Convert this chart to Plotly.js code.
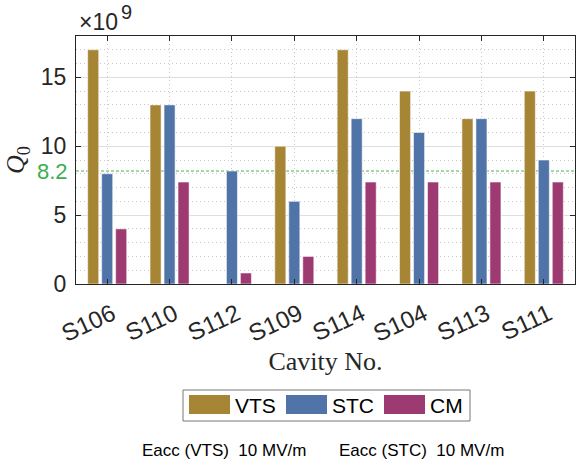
<!DOCTYPE html>
<html>
<head>
<meta charset="utf-8">
<script src="https://cdn.plot.ly/plotly-3.0.1.min.js"></script>
<style>html,body{margin:0;padding:0;background:#fff;}#chart{width:576px;height:465px;}</style>
</head>
<body>
<div id="chart"></div>
<script>
// ---- data (Q0 in units of 1e9) ----
const cavities = ["S106", "S110", "S112", "S109", "S114", "S104", "S113", "S111"];
const seriesNames = ["VTS", "STC", "CM"];
const vtsQ0 = [17, 13, 0, 10, 17, 14, 12, 14];
const stcQ0 = [8, 13, 8.2, 6, 12, 11, 12, 9];
const cmQ0  = [4, 7.4, 0.8, 2, 7.4, 7.4, 7.4, 7.4];
const thresholdQ0 = 8.2;
const yTickVals = [0, 5, 10, 15];
const footnotes = ["Eacc (VTS)  10 MV/m", "Eacc (STC)  10 MV/m"];

// ---- styles ----
const colors = ["#a68535", "#5174a8", "#9e3a72"];
const SANS = "Liberation Sans, Arial, Helvetica, sans-serif";
const SERIF = "Liberation Serif, Times New Roman, serif";
const INK = "#262626";

// plot-area pixel frame, used to place legend/notes
const L = 76, R = 575, T = 36, B = 284;
const px = x => (x - L) / (R - L);
const py = y => (B - y) / (B - T);

const allSeries = [vtsQ0, stcQ0, cmQ0];
const traces = allSeries.map((vals, i) => ({
  type: "bar",
  name: seriesNames[i],
  x: cavities,
  y: vals,
  marker: { color: colors[i], line: { color: "rgba(255,255,255,0.55)", width: 1 } },
  showlegend: false,
  hoverinfo: "x+y+name"
}));

const shapes = [{
  type: "line", xref: "paper", x0: 0, x1: 1, yref: "y", y0: thresholdQ0, y1: thresholdQ0,
  line: { color: "#4cb050", width: 1, dash: "3px,2px" }, layer: "between"
}];
const annotations = [
  { xref: "paper", yref: "y", x: 0, y: thresholdQ0, xanchor: "right", yanchor: "middle", xshift: -6,
    text: String(thresholdQ0), showarrow: false, font: { family: SANS, size: 22, color: "#3cae4e" } },
  { xref: "paper", yref: "paper", x: px(77), y: py(21.5), xanchor: "left", yanchor: "middle",
    text: "×10", showarrow: false, font: { family: SANS, size: 23, color: INK } },
  { xref: "paper", yref: "paper", x: px(118.5), y: py(12), xanchor: "left", yanchor: "middle",
    text: "9", showarrow: false, font: { family: SANS, size: 20, color: INK } }
];

// custom legend (wide swatches, as in the reference)
shapes.push({ type: "rect", xref: "paper", yref: "paper", x0: px(183), x1: px(470), y0: py(421), y1: py(390),
  line: { color: "#777", width: 1 }, fillcolor: "#fff", layer: "above" });
const swatchX = [189, 286, 384];
seriesNames.forEach((nm, i) => {
  shapes.push({ type: "rect", xref: "paper", yref: "paper", x0: px(swatchX[i]), x1: px(swatchX[i] + 41),
    y0: py(414), y1: py(395), line: { width: 0 }, fillcolor: colors[i], layer: "above" });
  annotations.push({ xref: "paper", yref: "paper", x: px(swatchX[i] + 44), y: py(405.5), xanchor: "left",
    yanchor: "middle", text: nm, showarrow: false, font: { family: SANS, size: 21, color: "#000" } });
});

// footnotes
const noteX = [140, 337];
footnotes.forEach((t, i) => annotations.push({ xref: "paper", yref: "paper", x: px(noteX[i]), y: py(450.5),
  xanchor: "left", yanchor: "middle", text: t, showarrow: false, font: { family: SANS, size: 17, color: "#000" } }));

const layout = {
  width: 576, height: 465,
  margin: { l: L, r: 576 - R, t: T, b: 465 - B, pad: 0 },
  paper_bgcolor: "#fff", plot_bgcolor: "#fff",
  barmode: "group", bargap: 0.327, bargroupgap: 0.21,
  font: { family: SANS, color: INK },
  xaxis: {
    type: "category", tickangle: -25,
    tickfont: { family: SANS, size: 24, color: INK },
    ticklabelshift: 5, ticklabelstandoff: 6,
    ticks: "inside", ticklen: 5, tickcolor: INK,
    showline: true, linecolor: INK, linewidth: 1, mirror: "allticks",
    showgrid: true, gridcolor: "#c8c8c8", griddash: "1px,3px", gridwidth: 1,
    title: { text: "Cavity No.", font: { family: SERIF, size: 26, color: INK }, standoff: 4 }
  },
  yaxis: {
    range: [0, 18], tickmode: "array", tickvals: yTickVals,
    tickfont: { family: SANS, size: 23, color: INK },
    ticklabelstandoff: 4,
    ticks: "inside", ticklen: 5, tickcolor: INK,
    showline: true, linecolor: INK, linewidth: 1, mirror: "allticks",
    showgrid: true, gridcolor: "#dedede", gridwidth: 1, zeroline: false,
    minor: { dtick: 1, tick0: 0, showgrid: true, gridcolor: "#c8c8c8", griddash: "1px,3px", ticks: "" },
    title: { text: "<i>Q</i><sub>0</sub>", font: { family: SERIF, size: 26, color: INK }, standoff: 8 }
  },
  shapes: shapes,
  annotations: annotations
};

Plotly.newPlot("chart", traces, layout, { displayModeBar: false, staticPlot: true });
</script>
</body>
</html>
